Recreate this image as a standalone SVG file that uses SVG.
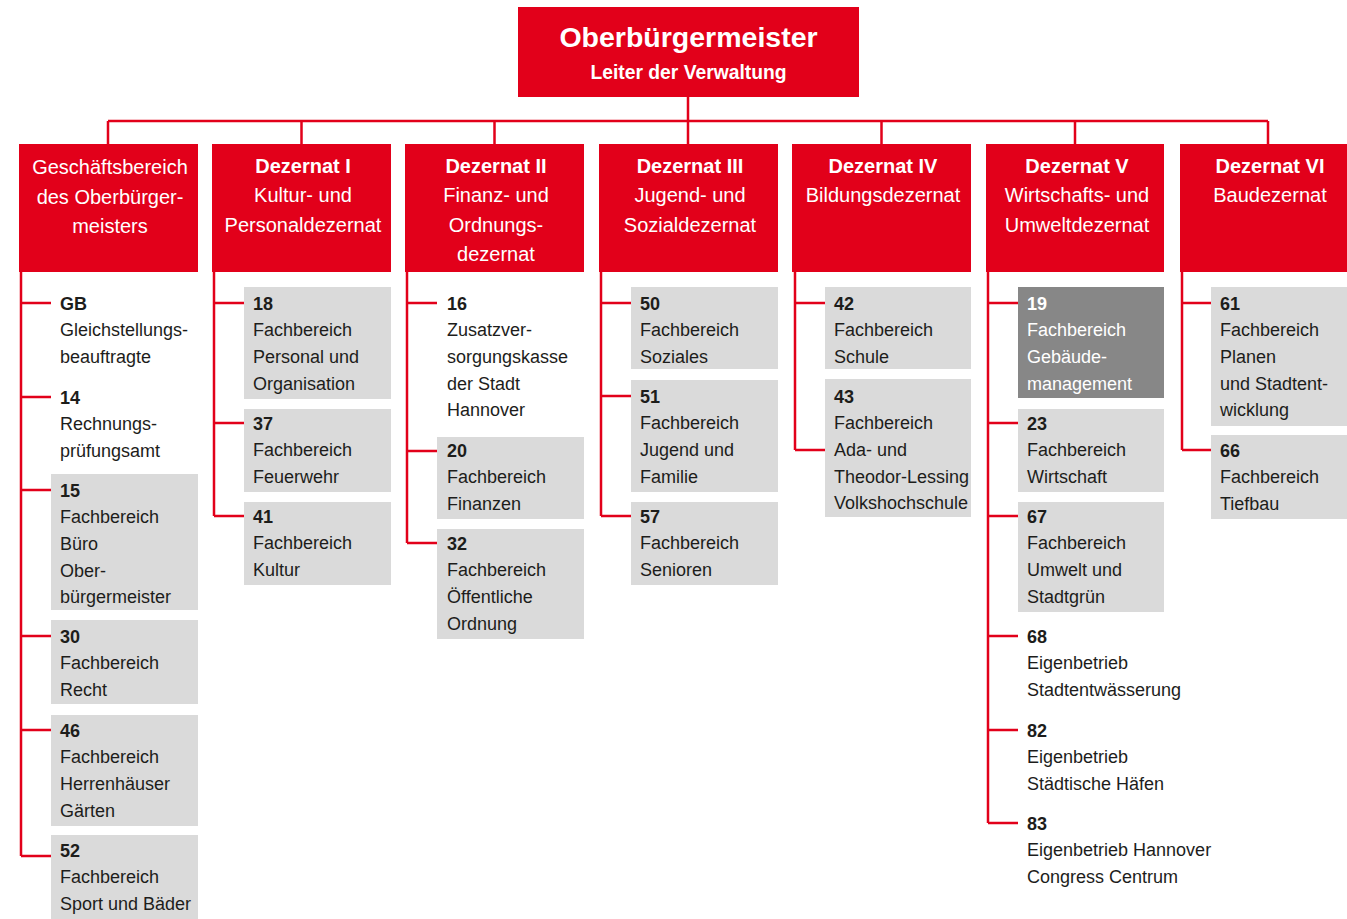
<svg xmlns="http://www.w3.org/2000/svg" width="1347" height="919" viewBox="0 0 1347 919">
<style>
.red{fill:#E2001A}
.box{fill:#DADADA}
.dark{fill:#878787}
.ln{stroke:#E2001A;stroke-width:2.5;fill:none}
text{font-family:"Liberation Sans",Arial,sans-serif}
.t{font-size:28.5px;font-weight:bold;fill:#fff;text-anchor:middle}
.st{font-size:19.3px;font-weight:bold;fill:#fff;text-anchor:middle}
.h{font-size:20px;fill:#fff;text-anchor:middle}
.h .b{font-weight:bold}
.c{font-size:18px;fill:#1d1d1b}
.c .b{font-weight:bold}
.w{fill:#fff}
</style>
<rect width="1347" height="919" fill="#fff"/>
<g id="connectors">
<path class="ln" d="M688,97V144M108,121H1268M108,121V144M301.5,121V144M494.5,121V144M881.5,121V144M1075,121V144M1268,121V144"/>
<path class="ln" d="M21,272V856M21,303H51M21,397H51M21,490H51M21,636H51M21,730H51M21,856H51"/>
<path class="ln" d="M214,272V516M214,303H244M214,423H244M214,516H244"/>
<path class="ln" d="M407,272V543M407,303H437M407,451H437M407,543H437"/>
<path class="ln" d="M601,272V516M601,303H631M601,396H631M601,516H631"/>
<path class="ln" d="M795,272V450M795,303H825M795,450H825"/>
<path class="ln" d="M988,272V823M988,303H1018M988,423H1018M988,516H1018M988,636H1018M988,730H1018M988,823H1018"/>
<path class="ln" d="M1182,272V450M1182,303H1211M1182,450H1211"/>
</g>
<g id="ob">
<rect class="red" x="518" y="7" width="341" height="90"/>
<text class="t" x="688.5" y="47">Oberbürgermeister</text>
<text class="st" x="688.5" y="79">Leiter der Verwaltung</text>
</g>
<g id="gb-obm">
<rect class="red" x="19" y="144" width="179" height="128"/>
<text class="h" x="110"><tspan x="110" y="174">Geschäftsbereich</tspan><tspan x="110" y="203.5">des Oberbürger-</tspan><tspan x="110" y="233">meisters</tspan></text>
</g>
<g id="dez1">
<rect class="red" x="212" y="144" width="179" height="128"/>
<text class="h"><tspan class="b" x="303" y="173">Dezernat I</tspan><tspan x="303" y="202.3">Kultur- und</tspan><tspan x="303" y="231.6">Personaldezernat</tspan></text>
</g>
<g id="dez2">
<rect class="red" x="405" y="144" width="179" height="128"/>
<text class="h"><tspan class="b" x="496" y="173">Dezernat II</tspan><tspan x="496" y="202.3">Finanz- und</tspan><tspan x="496" y="231.6">Ordnungs-</tspan><tspan x="496" y="260.9">dezernat</tspan></text>
</g>
<g id="dez3">
<rect class="red" x="599" y="144" width="179" height="128"/>
<text class="h"><tspan class="b" x="690" y="173">Dezernat III</tspan><tspan x="690" y="202.3">Jugend- und</tspan><tspan x="690" y="231.6">Sozialdezernat</tspan></text>
</g>
<g id="dez4">
<rect class="red" x="792" y="144" width="179" height="128"/>
<text class="h"><tspan class="b" x="883" y="173">Dezernat IV</tspan><tspan x="883" y="202.3">Bildungsdezernat</tspan></text>
</g>
<g id="dez5">
<rect class="red" x="986" y="144" width="178" height="128"/>
<text class="h"><tspan class="b" x="1077" y="173">Dezernat V</tspan><tspan x="1077" y="202.3">Wirtschafts- und</tspan><tspan x="1077" y="231.6">Umweltdezernat</tspan></text>
</g>
<g id="dez6">
<rect class="red" x="1180" y="144" width="167" height="128"/>
<text class="h"><tspan class="b" x="1270" y="173">Dezernat VI</tspan><tspan x="1270" y="202.3">Baudezernat</tspan></text>
</g>

<g id="n-gb"><text class="c"><tspan class="b" x="60" y="309.5">GB</tspan><tspan x="60" dy="26.7">Gleichstellungs-</tspan><tspan x="60" dy="26.7">beauftragte</tspan></text></g>
<g id="n-14"><text class="c"><tspan class="b" x="60" y="403.5">14</tspan><tspan x="60" dy="26.7">Rechnungs-</tspan><tspan x="60" dy="26.7">prüfungsamt</tspan></text></g>
<g id="n-15"><rect class="box" x="51" y="474" width="147" height="136"/><text class="c"><tspan class="b" x="60" y="496.5">15</tspan><tspan x="60" dy="26.7">Fachbereich</tspan><tspan x="60" dy="26.7">Büro</tspan><tspan x="60" dy="26.7">Ober-</tspan><tspan x="60" dy="26.7">bürgermeister</tspan></text></g>
<g id="n-30"><rect class="box" x="51" y="620" width="147" height="84"/><text class="c"><tspan class="b" x="60" y="642.5">30</tspan><tspan x="60" dy="26.7">Fachbereich</tspan><tspan x="60" dy="26.7">Recht</tspan></text></g>
<g id="n-46"><rect class="box" x="51" y="715" width="147" height="111"/><text class="c"><tspan class="b" x="60" y="736.5">46</tspan><tspan x="60" dy="26.7">Fachbereich</tspan><tspan x="60" dy="26.7">Herrenhäuser</tspan><tspan x="60" dy="26.7">Gärten</tspan></text></g>
<g id="n-52"><rect class="box" x="51" y="835" width="147" height="84"/><text class="c"><tspan class="b" x="60" y="856.5">52</tspan><tspan x="60" dy="26.7">Fachbereich</tspan><tspan x="60" dy="26.7">Sport und Bäder</tspan></text></g>

<g id="n-18"><rect class="box" x="244" y="287" width="147" height="112"/><text class="c"><tspan class="b" x="253" y="309.5">18</tspan><tspan x="253" dy="26.7">Fachbereich</tspan><tspan x="253" dy="26.7">Personal und</tspan><tspan x="253" dy="26.7">Organisation</tspan></text></g>
<g id="n-37"><rect class="box" x="244" y="409" width="147" height="83"/><text class="c"><tspan class="b" x="253" y="429.5">37</tspan><tspan x="253" dy="26.7">Fachbereich</tspan><tspan x="253" dy="26.7">Feuerwehr</tspan></text></g>
<g id="n-41"><rect class="box" x="244" y="502" width="147" height="83"/><text class="c"><tspan class="b" x="253" y="522.5">41</tspan><tspan x="253" dy="26.7">Fachbereich</tspan><tspan x="253" dy="26.7">Kultur</tspan></text></g>

<g id="n-16"><text class="c"><tspan class="b" x="447" y="309.5">16</tspan><tspan x="447" dy="26.7">Zusatzver-</tspan><tspan x="447" dy="26.7">sorgungskasse</tspan><tspan x="447" dy="26.7">der Stadt</tspan><tspan x="447" dy="26.7">Hannover</tspan></text></g>
<g id="n-20"><rect class="box" x="437" y="437" width="147" height="82"/><text class="c"><tspan class="b" x="447" y="456.5">20</tspan><tspan x="447" dy="26.7">Fachbereich</tspan><tspan x="447" dy="26.7">Finanzen</tspan></text></g>
<g id="n-32"><rect class="box" x="437" y="529" width="147" height="110"/><text class="c"><tspan class="b" x="447" y="549.5">32</tspan><tspan x="447" dy="26.7">Fachbereich</tspan><tspan x="447" dy="26.7">Öffentliche</tspan><tspan x="447" dy="26.7">Ordnung</tspan></text></g>

<g id="n-50"><rect class="box" x="631" y="287" width="147" height="82"/><text class="c"><tspan class="b" x="640" y="309.5">50</tspan><tspan x="640" dy="26.7">Fachbereich</tspan><tspan x="640" dy="26.7">Soziales</tspan></text></g>
<g id="n-51"><rect class="box" x="631" y="380" width="147" height="112"/><text class="c"><tspan class="b" x="640" y="402.5">51</tspan><tspan x="640" dy="26.7">Fachbereich</tspan><tspan x="640" dy="26.7">Jugend und</tspan><tspan x="640" dy="26.7">Familie</tspan></text></g>
<g id="n-57"><rect class="box" x="631" y="502" width="147" height="83"/><text class="c"><tspan class="b" x="640" y="522.5">57</tspan><tspan x="640" dy="26.7">Fachbereich</tspan><tspan x="640" dy="26.7">Senioren</tspan></text></g>

<g id="n-42"><rect class="box" x="825" y="287" width="146" height="82"/><text class="c"><tspan class="b" x="834" y="309.5">42</tspan><tspan x="834" dy="26.7">Fachbereich</tspan><tspan x="834" dy="26.7">Schule</tspan></text></g>
<g id="n-43"><rect class="box" x="825" y="379" width="146" height="138"/><text class="c"><tspan class="b" x="834" y="402.5">43</tspan><tspan x="834" dy="26.7">Fachbereich</tspan><tspan x="834" dy="26.7">Ada- und</tspan><tspan x="834" dy="26.7">Theodor-Lessing</tspan><tspan x="834" dy="26.7">Volkshochschule</tspan></text></g>

<g id="n-19"><rect class="dark" x="1018" y="287" width="146" height="111"/><text class="c w"><tspan class="b" x="1027" y="309.5">19</tspan><tspan x="1027" dy="26.7">Fachbereich</tspan><tspan x="1027" dy="26.7">Gebäude-</tspan><tspan x="1027" dy="26.7">management</tspan></text></g>
<g id="n-23"><rect class="box" x="1018" y="409" width="146" height="83"/><text class="c"><tspan class="b" x="1027" y="429.5">23</tspan><tspan x="1027" dy="26.7">Fachbereich</tspan><tspan x="1027" dy="26.7">Wirtschaft</tspan></text></g>
<g id="n-67"><rect class="box" x="1018" y="502" width="146" height="110"/><text class="c"><tspan class="b" x="1027" y="522.5">67</tspan><tspan x="1027" dy="26.7">Fachbereich</tspan><tspan x="1027" dy="26.7">Umwelt und</tspan><tspan x="1027" dy="26.7">Stadtgrün</tspan></text></g>
<g id="n-68"><text class="c"><tspan class="b" x="1027" y="642.5">68</tspan><tspan x="1027" dy="26.7">Eigenbetrieb</tspan><tspan x="1027" dy="26.7">Stadtentwässerung</tspan></text></g>
<g id="n-82"><text class="c"><tspan class="b" x="1027" y="736.5">82</tspan><tspan x="1027" dy="26.7">Eigenbetrieb</tspan><tspan x="1027" dy="26.7">Städtische Häfen</tspan></text></g>
<g id="n-83"><text class="c"><tspan class="b" x="1027" y="829.5">83</tspan><tspan x="1027" dy="26.7">Eigenbetrieb Hannover</tspan><tspan x="1027" dy="26.7">Congress Centrum</tspan></text></g>

<g id="n-61"><rect class="box" x="1211" y="287" width="136" height="139"/><text class="c"><tspan class="b" x="1220" y="309.5">61</tspan><tspan x="1220" dy="26.7">Fachbereich</tspan><tspan x="1220" dy="26.7">Planen</tspan><tspan x="1220" dy="26.7">und Stadtent-</tspan><tspan x="1220" dy="26.7">wicklung</tspan></text></g>
<g id="n-66"><rect class="box" x="1211" y="435" width="136" height="84"/><text class="c"><tspan class="b" x="1220" y="456.5">66</tspan><tspan x="1220" dy="26.7">Fachbereich</tspan><tspan x="1220" dy="26.7">Tiefbau</tspan></text></g>
</svg>
